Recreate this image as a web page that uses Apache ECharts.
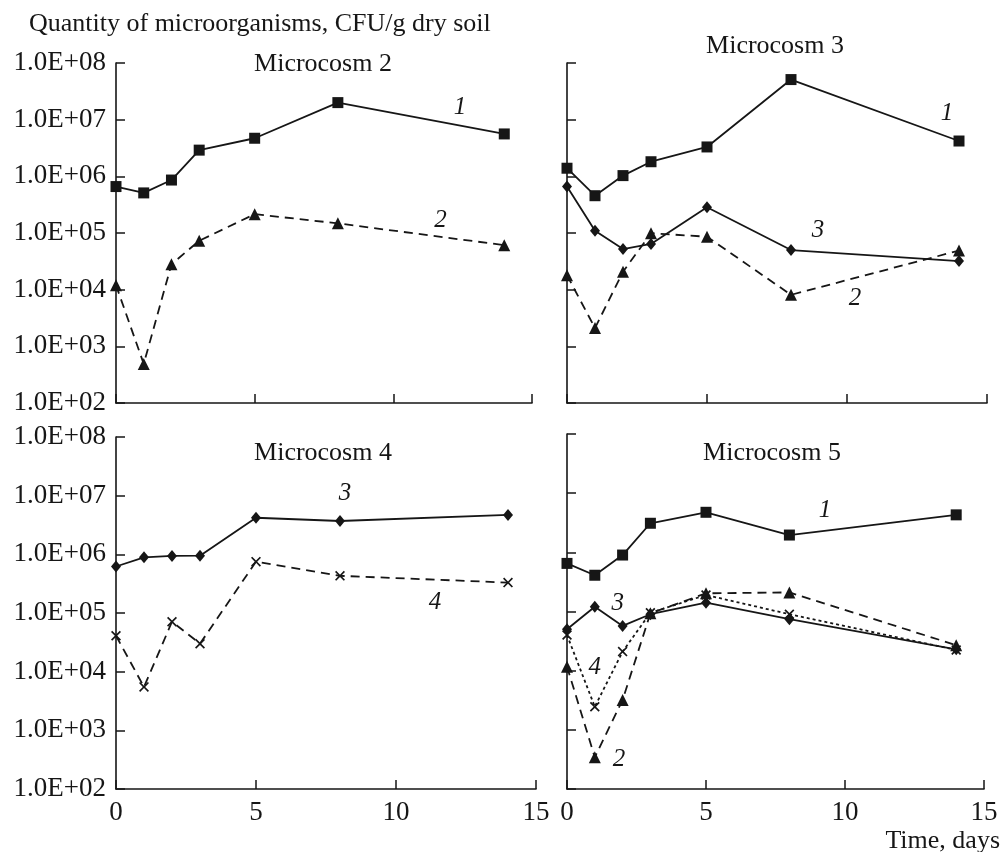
<!DOCTYPE html>
<html><head><meta charset="utf-8">
<script src="https://cdn.jsdelivr.net/npm/echarts@6/dist/echarts.min.js"></script>
<style>html,body{margin:0;padding:0;background:#fff}#c{width:1001px;height:852px}</style>
</head><body><div id="c"></div>
<script>
// ---- data ----
const days = [0, 1, 2, 3, 5, 8, 14];

// Microcosm 2
const m2_curve1 = [6.6e5, 5.1e5, 8.6e5, 2.9e6, 4.7e6, 2.0e7, 5.6e6];
const m2_curve2 = [1.2e4, 4.9e2, 2.8e4, 7.3e4, 2.15e5, 1.48e5, 6.1e4];
// Microcosm 3
const m3_curve1 = [1.39e6, 4.55e5, 1.03e6, 1.81e6, 3.3e6, 5.1e7, 4.2e6];
const m3_curve3 = [6.6e5, 1.1e5, 5.2e4, 6.4e4, 2.84e5, 5.0e4, 3.2e4];
const m3_curve2 = [1.8e4, 2.1e3, 2.07e4, 9.9e4, 8.6e4, 8.1e3, 4.9e4];
// Microcosm 4
const m4_curve3 = [6.2e5, 8.9e5, 9.4e5, 9.5e5, 4.2e6, 3.7e6, 4.7e6];
const m4_curve4 = [4.1e4, 5.5e3, 7.1e4, 3.0e4, 7.5e5, 4.3e5, 3.3e5];
// Microcosm 5
const m5_curve1 = [6.5e5, 4.1e5, 9.0e5, 3.1e6, 4.75e6, 1.96e6, 4.3e6];
const m5_curve3 = [5.0e4, 1.2e5, 5.7e4, 9.0e4, 1.41e5, 7.4e4, 2.3e4];
const m5_curve4 = [4.0e4, 2.46e3, 2.1e4, 9.5e4, 1.9e5, 9.0e4, 2.24e4];
const m5_curve2 = [1.17e4, 3.44e2, 3.2e3, 9.3e4, 2.03e5, 2.1e5, 2.7e4];

// tick labels
const yTickLabels = ['1.0E+02', '1.0E+03', '1.0E+04', '1.0E+05', '1.0E+06', '1.0E+07', '1.0E+08'];
const xTickValues = [0, 5, 10, 15];

// panel titles and text
const panelTitles = ['Microcosm 2', 'Microcosm 3', 'Microcosm 4', 'Microcosm 5'];
const yAxisTitle = 'Quantity of microorganisms, CFU/g dry soil';
const xAxisTitle = 'Time, days';

// curve number annotations (anchored in data coordinates: [day, CFU])
const m2_notes = [['1', 12.4, 1.67e7], ['2', 11.7, 1.7e5]];
const m3_notes = [['1', 13.57, 1.3e7], ['3', 8.96, 1.13e5], ['2', 10.29, 7.1e3]];
const m4_notes = [['3', 8.18, 1.11e7], ['4', 11.39, 1.54e5]];
const m5_notes = [['1', 9.28, 5.2e6], ['3', 1.83, 1.39e5], ['4', 1.0, 1.15e4], ['2', 1.87, 3.21e2]];

// ---- styling ----
const INK = '#161616';
const FONT = '"Liberation Serif", "Times New Roman", serif';
const SYM = {
  square: 'rect',
  triangle: 'triangle',
  diamond: 'diamond',
  cross: 'path://M0,0.12 L0.12,0 L0.5,0.38 L0.88,0 L1,0.12 L0.62,0.5 L1,0.88 L0.88,1 L0.5,0.62 L0.12,1 L0,0.88 L0.38,0.5 Z'
};
const SIZE = { square: 11, triangle: 12, diamond: [10, 12], cross: 10 };
const DASH = { solid: 'solid', dashed: [9, 6], dotted: [3, 3] };

const grids = [
  { left: 116, top: 63, width: 416, height: 340 },
  { left: 567, top: 63, width: 420, height: 340 },
  { left: 116, top: 437, width: 420, height: 352 },
  { left: 567, top: 434, width: 417, height: 355 }
];

function pairs(vals) { return days.map((d, i) => [d, vals[i]]); }

function mkSeries(idx, vals, marker, dash, notes) {
  const s = {
    type: 'line',
    xAxisIndex: idx, yAxisIndex: idx,
    data: pairs(vals),
    symbol: SYM[marker],
    symbolSize: SIZE[marker],
    showAllSymbol: true,
    lineStyle: { color: INK, width: 1.8, type: DASH[dash] },
    itemStyle: { color: INK, borderWidth: 0 },
    emphasis: { disabled: true },
    animation: false,
    z: 3
  };
  if (notes) {
    s.markPoint = {
      symbol: 'circle', symbolSize: 1,
      itemStyle: { color: 'rgba(0,0,0,0)' },
      animation: false,
      data: notes.map(n => ({ coord: [n[1], n[2]], value: n[0] })),
      label: {
        show: true, position: 'inside', formatter: p => p.value,
        fontFamily: FONT, fontStyle: 'italic', fontSize: 25, color: INK
      }
    };
  }
  return s;
}

const xAxes = grids.map((g, i) => ({
  type: 'value', gridIndex: i, min: 0, max: 15, interval: 5,
  axisLine: { show: true, onZero: false, lineStyle: { color: INK, width: 1.6 } },
  axisTick: { show: true, inside: true, length: 9, lineStyle: { color: INK, width: 1.5 } },
  axisLabel: {
    show: i >= 2, margin: 10, fontFamily: FONT, fontSize: 27, color: INK,
    formatter: v => (xTickValues.indexOf(v) >= 0 ? String(v) : '')
  },
  splitLine: { show: false }
}));

const yAxes = grids.map((g, i) => ({
  type: 'log', logBase: 10, gridIndex: i, min: 100, max: 1e8, splitNumber: 6,
  axisLine: { show: true, onZero: false, lineStyle: { color: INK, width: 1.6 } },
  axisTick: { show: true, inside: true, length: 9, lineStyle: { color: INK, width: 1.5 } },
  axisLabel: {
    show: i % 2 === 0, margin: 10, fontFamily: FONT, fontSize: 27, color: INK,
    formatter: v => yTickLabels[Math.round(Math.log10(v)) - 2] || ''
  },
  minorTick: { show: false },
  splitLine: { show: false }
}));

const series = [
  mkSeries(0, m2_curve1, 'square', 'solid', m2_notes.slice(0, 1)),
  mkSeries(0, m2_curve2, 'triangle', 'dashed', m2_notes.slice(1)),
  mkSeries(1, m3_curve1, 'square', 'solid', m3_notes.slice(0, 1)),
  mkSeries(1, m3_curve3, 'diamond', 'solid', m3_notes.slice(1, 2)),
  mkSeries(1, m3_curve2, 'triangle', 'dashed', m3_notes.slice(2)),
  mkSeries(2, m4_curve3, 'diamond', 'solid', m4_notes.slice(0, 1)),
  mkSeries(2, m4_curve4, 'cross', 'dashed', m4_notes.slice(1)),
  mkSeries(3, m5_curve1, 'square', 'solid', m5_notes.slice(0, 1)),
  mkSeries(3, m5_curve3, 'diamond', 'solid', m5_notes.slice(1, 2)),
  mkSeries(3, m5_curve4, 'cross', 'dotted', m5_notes.slice(2, 3)),
  mkSeries(3, m5_curve2, 'triangle', 'dashed', m5_notes.slice(3))
];

function txt(x, y, text, align) {
  return {
    type: 'text', x: x, y: y, silent: true,
    style: { text: text, fill: INK, font: '26px ' + FONT, textAlign: align || 'center', textVerticalAlign: 'middle' }
  };
}

const graphic = [
  txt(29, 24, yAxisTitle, 'left'),
  txt(323, 64, panelTitles[0]),
  txt(775, 46, panelTitles[1]),
  txt(323, 453, panelTitles[2]),
  txt(772, 453, panelTitles[3]),
  txt(1000, 841, xAxisTitle, 'right')
];

const chart = echarts.init(document.getElementById('c'), null, { renderer: 'canvas' });
chart.setOption({
  backgroundColor: '#ffffff',
  animation: false,
  grid: grids,
  xAxis: xAxes,
  yAxis: yAxes,
  series: series,
  graphic: graphic
});
</script>
</body></html>
